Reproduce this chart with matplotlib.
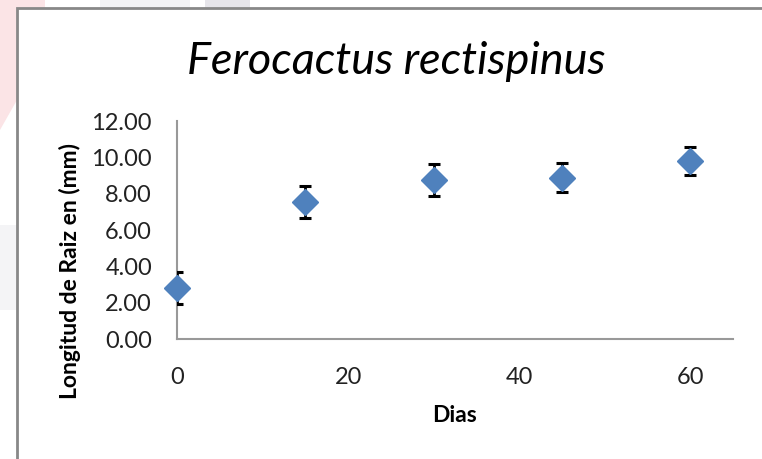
import matplotlib
matplotlib.use("Agg")
import matplotlib.pyplot as plt
from matplotlib.patches import Rectangle, Polygon

dias = [0, 15, 30, 45, 60]
longitud = [2.82, 7.52, 8.75, 8.88, 9.80]
error = [0.89, 0.88, 0.86, 0.80, 0.75]
yticks = [0, 2, 4, 6, 8, 10, 12]
xticks = [0, 20, 40, 60]

plt.rcParams['font.family'] = ['Lato', 'DejaVu Sans']

W, H = 762, 459
fig = plt.figure(figsize=(W / 100, H / 100), dpi=100)
fig.patch.set_facecolor('white')

# faint background outside the chart frame
fig.patches.append(Polygon([[0, 1], [45 / W, 1], [45 / W, 1 - 8 / H], [17 / W, 1 - 8 / H],
                            [17 / W, 1 - 100 / H], [0, 1 - 130 / H]],
                           closed=True, transform=fig.transFigure,
                           facecolor='#fbe4e6', edgecolor='none', zorder=0))
fig.patches.append(Rectangle((100 / W, 1 - 8 / H), 90 / W, 8 / H, transform=fig.transFigure,
                             facecolor='#f3f3f5', edgecolor='none', zorder=0))
fig.patches.append(Rectangle((205 / W, 1 - 8 / H), 45 / W, 8 / H, transform=fig.transFigure,
                             facecolor='#e6e5ea', edgecolor='none', zorder=0))
fig.patches.append(Rectangle((0, 1 - 310 / H), 17 / W, 85 / H, transform=fig.transFigure,
                             facecolor='#f4f4f6', edgecolor='none', zorder=0))
# chart frame
fig.patches.append(Rectangle((17 / W, -0.01), 1.0, 1 - 8 / H + 0.01, transform=fig.transFigure,
                             facecolor='white', edgecolor='#888888', linewidth=2, zorder=1))

ax = fig.add_axes([177 / W, 1 - 339 / H, (733 - 177) / W, (339 - 121) / H])
ax.set_facecolor('none')
ax.set_zorder(2)

ax.errorbar(dias, longitud, yerr=error, fmt='none', ecolor='black', elinewidth=2,
            capsize=4.5, capthick=2.2, zorder=3)
ax.plot(dias, longitud, linestyle='none', marker='D', markersize=13.5,
        color='#4f81bd', markeredgecolor='#4f81bd', clip_on=False, zorder=4)

ax.set_xlim(0, 65)
ax.set_ylim(0, 12)
ax.set_xticks(xticks)
ax.set_yticks(yticks)
ax.set_yticklabels([f"{v:.2f}" for v in yticks])
ax.tick_params(axis='both', length=0, labelsize=17, colors='#222222')
ax.tick_params(axis='y', pad=18)
ax.tick_params(axis='x', pad=20)

for side in ['top', 'right']:
    ax.spines[side].set_visible(False)
for side in ['left', 'bottom']:
    ax.spines[side].set_color('#999999')
    ax.spines[side].set_linewidth(1.5)

fig.text(396 / W, 1 - 74 / H, 'Ferocactus rectispinus', ha='center', va='baseline',
         fontsize=32.5, style='italic', color='black')
fig.text(455 / W, 1 - 416 / H, 'Dias', ha='center', va='center', fontsize=16.5,
         fontweight='bold', color='black')
fig.text(70 / W, 1 - 271 / H, 'Longitud de Raiz en (mm)', ha='center', va='center',
         rotation=90, fontsize=16.5, fontweight='bold', color='black')

fig.savefig('out.png', dpi=100, facecolor='white')
